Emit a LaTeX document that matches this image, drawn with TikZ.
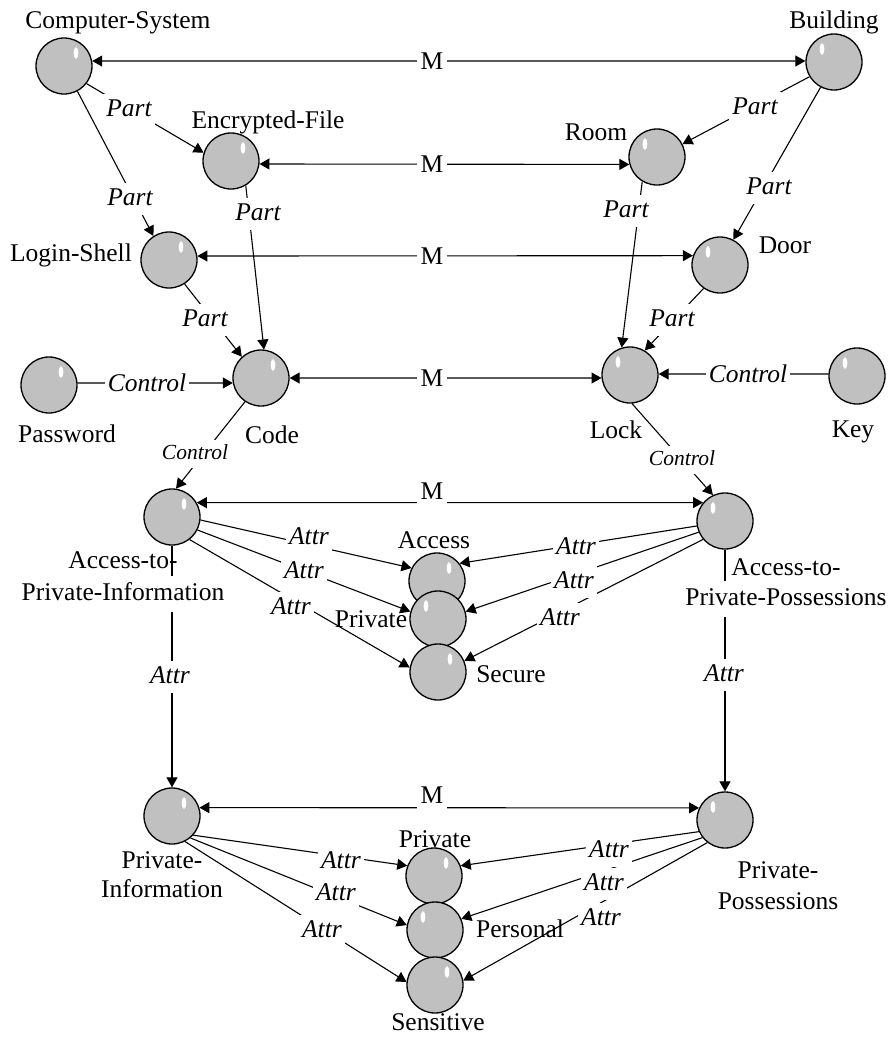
\documentclass[tikz,border=0pt]{standalone}
\usepackage{fontspec}
\setmainfont{Liberation Serif}
\usetikzlibrary{arrows.meta}
\definecolor{ballgray}{RGB}{192,192,192}
\begin{document}
\begin{tikzpicture}[x=1pt,y=-1pt,
  >={Triangle[length=10pt,width=11pt]},
  link/.style={line width=1.1pt},
  ball/.style={circle,draw,line width=1.3pt,fill=ballgray,minimum size=56pt,inner sep=0pt},
  ballR/.style={ball,path picture={\fill[white,shift={(path picture bounding box.center)}] (12,-13) ellipse [x radius=2.3pt,y radius=5.8pt];}},
  ballL/.style={ball,path picture={\fill[white,shift={(path picture bounding box.center)}] (-12,-13) ellipse [x radius=2.3pt,y radius=5.8pt];}},
  ttl/.style={font=\fontsize{25.5}{30}\selectfont,inner sep=0pt,anchor=base},
  edgetxt/.style={font=\fontsize{25.5}{30}\selectfont\itshape,fill=white,inner xsep=3pt,inner ysep=1pt},
  edgetxtsmall/.style={font=\fontsize{21.5}{26}\selectfont\itshape,fill=white,inner xsep=3pt,inner ysep=1pt},
  mlab/.style={font=\fontsize{25.5}{30}\selectfont,fill=white,inner xsep=4pt,inner ysep=1pt},
]
\useasboundingbox (0,0) rectangle (892,1037);

% concepts
\node[ballR] (CS)   at (64,66)   {};
\node[ballL] (Bld)  at (834,62)  {};
\node[ballR] (EF)   at (231,161) {};
\node[ballL] (Room) at (657,157) {};
\node[ballR] (LS)   at (169,260) {};
\node[ballL] (Door) at (720,265) {};
\node[ballR] (Pwd)  at (49,385)  {};
\node[ballR] (Code) at (261,378) {};
\node[ballL] (Lock) at (630,375) {};
\node[ballL] (Key)  at (857,376) {};
\node[ballR] (API)  at (172,517) {};
\node[ballL] (APP)  at (725,521) {};
\node[ballR] (Acc)  at (437,581) {};
\node[ballL] (PrvA) at (438,619) {};
\node[ballR] (Sec)  at (438,672) {};
\node[ballR] (PI)   at (172,816) {};
\node[ballL] (PP)   at (725,820) {};
\node[ballR] (PrvB) at (434,876) {};
\node[ballL] (Pers) at (435,930) {};
\node[ballR] (Sens) at (435,985) {};

% mappings
\draw[link,<->] (CS.10)    -- (Bld.178);
\draw[link,<->] (EF.354)   -- (Room.195);
\draw[link,<->] (LS.8)     -- (Door.161);
\draw[link,<->] (Code.0)   -- (Lock.186);
\draw[link,<->] (API.30)   -- (APP.140);
\draw[link,<->] (PI.17)    -- (PP.155);

% part-of relations
\draw[link,->] (CS.322)   -- (EF.163);
\draw[link,->] (CS.298)   -- (LS.123);
\draw[link,->] (EF.301)   -- (Code.84);
\draw[link,->] (LS.303)   -- (Code.132);
\draw[link,->] (Bld.211)  -- (Room.27);
\draw[link,->] (Bld.242)  -- (Door.62);
\draw[link,->] (Room.239) -- (Lock.107);
\draw[link,->] (Door.235) -- (Lock.59);

% control relations
\draw[link,->] (Pwd.4)    -- (Code.190);
\draw[link,->] (Key.176)  -- (Lock.2);
\draw[link,->] (Code.236) -- (API.82);
\draw[link,->] (Lock.274) -- (APP.115);

% attributes
\draw[link,->] (API.354) -- (Acc.153);
\draw[link,->] (API.333) -- (PrvA.165);
\draw[link,->] (API.308) -- (Sec.171);
\draw[link,->] (APP.190) -- (Acc.38);
\draw[link,->] (APP.203) -- (PrvA.15);
\draw[link,->] (APP.220) -- (Sec.23);
\draw[link,->] (API.south) -- (PI.north);
\draw[link,->] (APP.south) -- (PP.north);
\draw[link,->] (PI.318) -- (PrvB.159);
\draw[link,->] (PI.310) -- (Pers.170);
\draw[link,->] (PI.297) -- (Sens.174);
\draw[link,->] (PP.204) -- (PrvB.21);
\draw[link,->] (PP.218) -- (Pers.23);
\draw[link,->] (PP.232) -- (Sens.9);

% relation labels
\node[mlab] (m1) at (432,63.5)  {M\strut};
\node[mlab] (m2) at (432,166.5) {M\strut};
\node[mlab] (m3) at (432,258.5) {M\strut};
\node[mlab] (m4) at (432,380.5) {M\strut};
\node[mlab] (m5) at (432,493.5) {M\strut};
\node[mlab] (m6) at (432,797)   {M\strut};

\node[edgetxt] (p1) at (129,110) {Part\strut};
\node[edgetxt] (p2) at (130,199) {Part\strut};
\node[edgetxt] (p3) at (258,214) {Part\strut};
\node[edgetxt] (p4) at (205,320) {Part\strut};
\node[edgetxt] (p5) at (755,108) {Part\strut};
\node[edgetxt] (p6) at (769,188) {Part\strut};
\node[edgetxt] (p7) at (626,211) {Part\strut};
\node[edgetxt] (p8) at (672,320) {Part\strut};

\node[edgetxt] (c1) at (147,385) {Control\strut};
\node[edgetxt] (c2) at (748,376) {Control\strut};
\node[edgetxtsmall] (c3) at (195,454) {Control\strut};
\node[edgetxtsmall] (c4) at (682,460) {Control\strut};

\node[edgetxt] (a1)  at (309,538) {Attr\strut};
\node[edgetxt] (a2)  at (304,572) {Attr\strut};
\node[edgetxt] (a3)  at (291,608) {Attr\strut};
\node[edgetxt] (a4)  at (576,548) {Attr\strut};
\node[edgetxt] (a5)  at (574,582) {Attr\strut};
\node[edgetxt] (a6)  at (560,619) {Attr\strut};
\node[edgetxt] (a7)  at (170,677) {Attr\strut};
\node[edgetxt] (a8)  at (724,675) {Attr\strut};
\node[edgetxt] (a9)  at (341,862) {Attr\strut};
\node[edgetxt] (a10) at (336,894) {Attr\strut};
\node[edgetxt] (a11) at (322,931) {Attr\strut};
\node[edgetxt] (a12) at (609,851) {Attr\strut};
\node[edgetxt] (a13) at (604,884) {Attr\strut};
\node[edgetxt] (a14) at (601,919) {Attr\strut};

% concept names
\node[ttl] (tCS)   at (118,28)  {Computer-System};
\node[ttl] (tBld)  at (834,28)  {Building};
\node[ttl] (tEF)   at (268,128) {Encrypted-File};
\node[ttl] (tRoom) at (596,140) {Room};
\node[ttl] (tLS)   at (71,261)  {Login-Shell};
\node[ttl] (tDoor) at (785,253) {Door};
\node[ttl] (tPwd)  at (67,442)  {Password};
\node[ttl] (tCode) at (272,443) {Code};
\node[ttl] (tLock) at (616,438) {Lock};
\node[ttl] (tKey)  at (853,437) {Key};
\node[ttl] (tAPIa) at (123,568) {Access-to-};
\node[ttl,fill=white,inner sep=3pt] (tAPIb) at (123,600) {Private-Information\strut};
\node[ttl] (tAPPa) at (786,575) {Access-to-};
\node[ttl,fill=white,inner sep=3pt] (tAPPb) at (786,605) {Private-Possessions\strut};
\node[ttl] (tAcc)  at (434,548) {Access};
\node[ttl] (tPrvA) at (371,627) {Private};
\node[ttl] (tSec)  at (511,682) {Secure};
\node[ttl] (tPIa)  at (162,868) {Private-};
\node[ttl] (tPIb)  at (162,897) {Information};
\node[ttl] (tPPa)  at (778,878) {Private-};
\node[ttl] (tPPb)  at (778,909) {Possessions};
\node[ttl] (tPrvB) at (435,847) {Private};
\node[ttl] (tPers) at (520,937) {Personal};
\node[ttl] (tSens) at (438,1030) {Sensitive};
\end{tikzpicture}
\end{document}
